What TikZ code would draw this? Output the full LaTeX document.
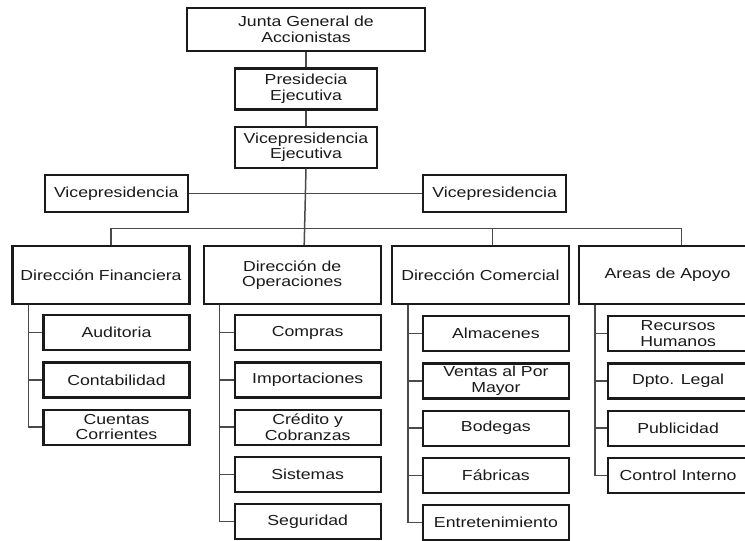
\documentclass[tikz,border=0pt]{standalone}
\usepackage{fontspec}
\setmainfont{Liberation Sans}[FakeStretch=1.22]
\usepackage{xcolor}
\usepackage{tikz}
\usetikzlibrary{positioning}

\definecolor{inkdark}{HTML}{1A1A1A}
\definecolor{linegray}{HTML}{4A4A4A}

\begin{document}
\begin{tikzpicture}[
    font=\fontsize{14.5}{15.5}\selectfont,
    % estilos
    base_block/.style={
        draw=inkdark, fill=white, text=inkdark, align=center, inner sep=1pt, line width=2.2pt
    },
    top_block/.style={
        base_block, line width=2.6pt, minimum width=238pt, minimum height=43pt
    },
    exec_block/.style={
        base_block, minimum width=142pt, minimum height=41pt
    },
    vice_block/.style={
        base_block, minimum width=143pt, minimum height=37pt
    },
    dir_block/.style={
        base_block, minimum width=177pt, minimum height=58pt
    },
    unit_block/.style={
        base_block, minimum width=146pt, minimum height=35pt
    },
    link/.style={
        draw=linegray, line width=1.5pt
    }
]
    \path[use as bounding box, clip] (0,0) rectangle (745pt,-541pt);

    % --- 1. ALTA DIRECCION ---
    \node[top_block] (junta) at (306pt,-29.5pt) {Junta General de\\Accionistas};
    \node[exec_block, below=15pt of junta] (presid) {Presidecia\\Ejecutiva};
    \node[exec_block, below=15pt of presid] (vice_ejec) {Vicepresidencia\\Ejecutiva};

    % Vicepresidencias laterales
    \node[vice_block, below left=5pt and 45pt of vice_ejec.south west] (vice_left) {Vicepresidencia};
    \node[vice_block, below right=5pt and 44pt of vice_ejec.south east] (vice_right) {Vicepresidencia};

    \draw[link] (junta) -- (presid);
    \draw[link] (presid) -- (vice_ejec);
    \draw[link] (vice_left) -- (vice_right);

    % --- 2. DIRECCIONES ---
    \node[dir_block] (fin) at (101pt,-275pt) {Dirección Financiera};
    \node[dir_block, right=12pt of fin] (ops) {Dirección de\\Operaciones};
    \node[dir_block, right=9pt of ops] (com) {Dirección Comercial};
    \node[dir_block, right=8pt of com] (areas) {Areas de Apoyo};

    % Bus horizontal
    \path (vice_ejec.south) ++(0,-60pt) coordinate (bus_mid);
    \coordinate[xshift=10pt] (fin_in) at (fin.north);
    \coordinate[xshift=12pt] (ops_in) at (ops.north);
    \coordinate[xshift=12pt] (com_in) at (com.north);
    \coordinate[xshift=14pt] (areas_in) at (areas.north);

    \draw[link] (vice_ejec.south) -- (ops_in);
    \draw[link] (fin_in) |- (bus_mid) -| (areas_in);
    \draw[link] (com_in) -- (com_in |- bus_mid);

    % --- 3. DIRECCION FINANCIERA ---
    \node[unit_block, below left=9pt and 0pt of fin.south east] (auditoria) {Auditoria};
    \node[unit_block, below=10pt of auditoria] (contab) {Contabilidad};
    \node[unit_block, below=10pt of contab] (cuentas) {Cuentas\\Corrientes};

    \coordinate[xshift=17pt] (fin_stem) at (fin.south west);
    \draw[link] (fin_stem) |- (cuentas.west);
    \draw[link] (fin_stem |- auditoria.west) -- (auditoria.west);
    \draw[link] (fin_stem |- contab.west) -- (contab.west);

    % --- 4. DIRECCION DE OPERACIONES ---
    \node[unit_block, below left=9pt and 0pt of ops.south east] (compras) {Compras};
    \node[unit_block, below=10pt of compras] (import) {Importaciones};
    \node[unit_block, below=10pt of import] (credito) {Crédito y\\Cobranzas};
    \node[unit_block, below=10pt of credito] (sistemas) {Sistemas};
    \node[unit_block, below=10pt of sistemas] (seguridad) {Seguridad};

    \coordinate[xshift=17pt] (ops_stem) at (ops.south west);
    \draw[link] (ops_stem) |- (seguridad.west);
    \draw[link] (ops_stem |- compras.west) -- (compras.west);
    \draw[link] (ops_stem |- import.west) -- (import.west);
    \draw[link] (ops_stem |- credito.west) -- (credito.west);
    \draw[link] (ops_stem |- sistemas.west) -- (sistemas.west);

    % --- 5. DIRECCION COMERCIAL ---
    \node[unit_block, below left=10pt and 0pt of com.south east] (almacenes) {Almacenes};
    \node[unit_block, below=10pt of almacenes] (ventas) {Ventas al Por\\Mayor};
    \node[unit_block, below=10pt of ventas] (bodegas) {Bodegas};
    \node[unit_block, below=10pt of bodegas] (fabricas) {Fábricas};
    \node[unit_block, below=10pt of fabricas] (entret) {Entretenimiento};

    \coordinate[xshift=17pt] (com_stem) at (com.south west);
    \draw[link] (com_stem) |- (entret.west);
    \draw[link] (com_stem |- almacenes.west) -- (almacenes.west);
    \draw[link] (com_stem |- ventas.west) -- (ventas.west);
    \draw[link] (com_stem |- bodegas.west) -- (bodegas.west);
    \draw[link] (com_stem |- fabricas.west) -- (fabricas.west);

    % --- 6. AREAS DE APOYO ---
    % cajas algo mas estrechas: el borde derecho queda fuera del recorte
    \node[unit_block, minimum width=140pt, below right=10pt and 29pt of areas.south west] (rrhh) {Recursos\\Humanos};
    \node[unit_block, minimum width=140pt, below=10pt of rrhh] (legal) {Dpto. Legal};
    \node[unit_block, minimum width=140pt, below=10pt of legal] (publicidad) {Publicidad};
    \node[unit_block, minimum width=140pt, below=10pt of publicidad] (control) {Control Interno};

    \coordinate[xshift=17pt] (areas_stem) at (areas.south west);
    \draw[link] (areas_stem) |- (control.west);
    \draw[link] (areas_stem |- rrhh.west) -- (rrhh.west);
    \draw[link] (areas_stem |- legal.west) -- (legal.west);
    \draw[link] (areas_stem |- publicidad.west) -- (publicidad.west);

\end{tikzpicture}
\end{document}
